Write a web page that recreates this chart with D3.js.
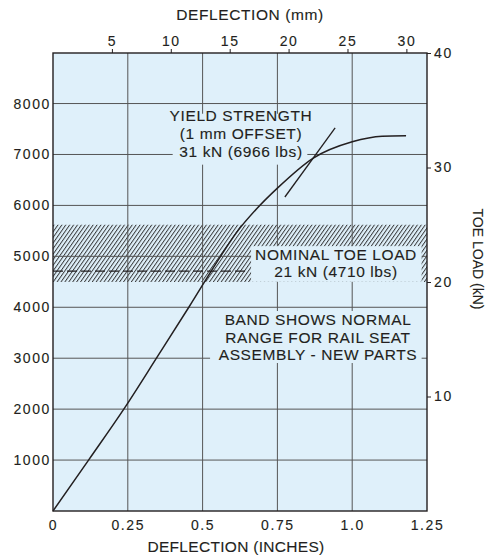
<!DOCTYPE html>
<html>
<head>
<meta charset="utf-8">
<script src="https://cdn.jsdelivr.net/npm/d3@7"></script>
<style>
  body { margin: 0; background: #fff; }
  text { font-family: "Liberation Sans", Arial, sans-serif; fill: #231f20; stroke: #231f20; stroke-width: 0.12px; }
</style>
</head>
<body>
<div id="viz"></div>
<script>
// load vs deflection
var deflection = [0, 0.12, 0.24, 0.35, 0.455, 0.56, 0.615, 0.68, 0.75, 0.87, 1.0, 1.1, 1.18];
var loadLbs    = [0, 1010, 2030, 3040, 4010, 5000, 5480, 5930, 6340, 6930, 7250, 7360, 7370];

// 1 mm offset line used to find yield
var offsetDefl = [0.775, 0.943];
var offsetLoad = [6165, 7520];

var inchTicks  = [0, 0.25, 0.5, 0.75, 1.0, 1.25];
var inchLabels = ['0', '0.25', '0.5', '0.75', '1.0', '1.25'];
var mmTicks    = [5, 10, 15, 20, 25, 30];
var lbsTicks   = [1000, 2000, 3000, 4000, 5000, 6000, 7000, 8000];
var kNTicks    = [10, 20, 30, 40];

var bandKN = [20, 25];
var nominalLbs = 4710;

var yieldText   = ['YIELD STRENGTH', '(1 mm OFFSET)', '31 kN (6966 lbs)'];
var nominalText = ['NOMINAL TOE LOAD', '21 kN (4710 lbs)'];
var bandText    = ['BAND SHOWS NORMAL', 'RANGE FOR RAIL SEAT', 'ASSEMBLY - NEW PARTS'];

var W = 486, H = 556,
    margin = { top: 53, right: 59, bottom: 45, left: 53 },
    bg = '#dff0fa',
    ink = '#231f20',
    grid = '#555';

var x = d3.scaleLinear().domain([0, 1.25]).range([margin.left, W - margin.right]);
var xMm = d3.scaleLinear().domain([0, 1.25 * 25.4]).range([margin.left, W - margin.right]);
var yKN = d3.scaleLinear().domain([0, 40]).range([H - margin.bottom, margin.top]);
var yLbs = d3.scaleLinear().domain([0, 40 * 224.809]).range([H - margin.bottom, margin.top]);

var svg = d3.select('#viz').append('svg')
  .attr('width', W)
  .attr('height', H);

var defs = svg.append('defs');
defs.append('pattern')
  .attr('id', 'hatch')
  .attr('patternUnits', 'userSpaceOnUse')
  .attr('width', 3.2)
  .attr('height', 6)
  .attr('patternTransform', 'rotate(35)')
  .call(function(p) {
    p.append('rect').attr('width', 3.2).attr('height', 6).attr('fill', bg);
    p.append('line').attr('x1', 0.5).attr('x2', 0.5).attr('y1', 0).attr('y2', 6)
      .attr('stroke', '#2e2e2e').attr('stroke-width', 0.9);
  });

// plot background
svg.append('rect')
  .attr('x', x(0)).attr('y', yKN(40))
  .attr('width', x(1.25) - x(0))
  .attr('height', yKN(0) - yKN(40))
  .attr('fill', bg);

// hatched band
svg.append('rect')
  .attr('x', x(0)).attr('y', yKN(bandKN[1]))
  .attr('width', x(1.25) - x(0))
  .attr('height', yKN(bandKN[0]) - yKN(bandKN[1]))
  .attr('fill', 'url(#hatch)');

// grid
svg.append('g').selectAll('line').data(lbsTicks).enter().append('line')
  .attr('x1', x(0)).attr('x2', x(1.25))
  .attr('y1', function(d) { return yLbs(d); })
  .attr('y2', function(d) { return yLbs(d); })
  .attr('stroke', grid).attr('stroke-width', 1);

svg.append('g').selectAll('line').data(inchTicks.slice(1, -1)).enter().append('line')
  .attr('x1', function(d) { return x(d); })
  .attr('x2', function(d) { return x(d); })
  .attr('y1', yKN(40)).attr('y2', yKN(0))
  .attr('stroke', grid).attr('stroke-width', 1);

// nominal load dashed line
svg.append('line')
  .attr('x1', x(0)).attr('x2', x(0.655))
  .attr('y1', yLbs(nominalLbs)).attr('y2', yLbs(nominalLbs))
  .attr('stroke', ink).attr('stroke-width', 1.1)
  .attr('stroke-dasharray', '10,4');

// label backgrounds that hide the grid
function labelBox(x0, x1, l0, l1) {
  svg.append('rect')
    .attr('x', x(x0)).attr('y', yLbs(l0))
    .attr('width', x(x1) - x(x0))
    .attr('height', yLbs(l1) - yLbs(l0))
    .attr('fill', bg);
}
labelBox(0.4, 0.85, 7800, 6800);
labelBox(0.662, 1.232, 5200, 4500);
labelBox(0.525, 1.232, 3927, 2906);

// curve
var pts = deflection.map(function(d, i) { return [d, loadLbs[i]]; });
var line = d3.line()
  .x(function(d) { return x(d[0]); })
  .y(function(d) { return yLbs(d[1]); })
  .curve(d3.curveMonotoneX);

svg.append('path')
  .datum(pts)
  .attr('d', line)
  .attr('fill', 'none')
  .attr('stroke', ink)
  .attr('stroke-width', 1.5);

svg.append('line')
  .attr('x1', x(offsetDefl[0])).attr('y1', yLbs(offsetLoad[0]))
  .attr('x2', x(offsetDefl[1])).attr('y2', yLbs(offsetLoad[1]))
  .attr('stroke', ink).attr('stroke-width', 1.3);

// annotation texts
function block(lines, cx, y0, dy) {
  svg.append('g').selectAll('text').data(lines).enter().append('text')
    .attr('x', cx)
    .attr('y', function(d, i) { return y0 + i * dy; })
    .attr('text-anchor', 'middle')
    .style('font-size', '15.5px')
    .style('letter-spacing', '0.6px')
    .text(function(d) { return d; });
}
block(yieldText, 241, 120.5, 18.3);
block(nominalText, 336, 260, 16.5);
block(bandText, 318, 325, 17.5);

// frame
svg.append('rect')
  .attr('x', x(0)).attr('y', yKN(40))
  .attr('width', x(1.25) - x(0))
  .attr('height', yKN(0) - yKN(40))
  .attr('fill', 'none')
  .attr('stroke', ink).attr('stroke-width', 1.4);

// axes
var bottomAxis = d3.axisBottom(x).tickValues(inchTicks)
  .tickFormat(function(d, i) { return inchLabels[i]; })
  .tickSize(0).tickPadding(9);
var topAxis = d3.axisTop(xMm).tickValues(mmTicks).tickSize(4).tickPadding(3);
var leftAxis = d3.axisLeft(yLbs).tickValues(lbsTicks).tickFormat(d3.format('d'))
  .tickSize(0).tickPadding(2);
var rightAxis = d3.axisRight(yKN).tickValues(kNTicks).tickSize(4).tickPadding(3);

function styleAxis(g) {
  g.select('.domain').remove();
  g.selectAll('line').attr('stroke', ink);
  g.selectAll('text')
    .style('font-size', '14px')
    .style('letter-spacing', '1.6px')
    .attr('fill', ink);
}

svg.append('g').attr('transform', 'translate(0,' + yKN(0) + ')').call(bottomAxis).call(styleAxis);
svg.append('g').attr('transform', 'translate(0,' + yKN(40) + ')').call(topAxis).call(styleAxis);
svg.append('g').attr('transform', 'translate(' + x(0) + ',0)').call(leftAxis).call(styleAxis);
svg.append('g').attr('transform', 'translate(' + x(1.25) + ',0)').call(rightAxis).call(styleAxis);

// axis titles
svg.append('text')
  .attr('x', 236).attr('y', 552)
  .attr('text-anchor', 'middle')
  .style('font-size', '15.5px')
  .style('letter-spacing', '0.3px')
  .text('DEFLECTION (INCHES)');

svg.append('text')
  .attr('x', 250).attr('y', 20)
  .attr('text-anchor', 'middle')
  .style('font-size', '15.5px')
  .style('letter-spacing', '0.6px')
  .text('DEFLECTION (mm)');

svg.append('text')
  .attr('transform', 'translate(473,259) rotate(90)')
  .attr('text-anchor', 'middle')
  .style('font-size', '14px')
  .text('TOE LOAD (kN)');
</script>
</body>
</html>
